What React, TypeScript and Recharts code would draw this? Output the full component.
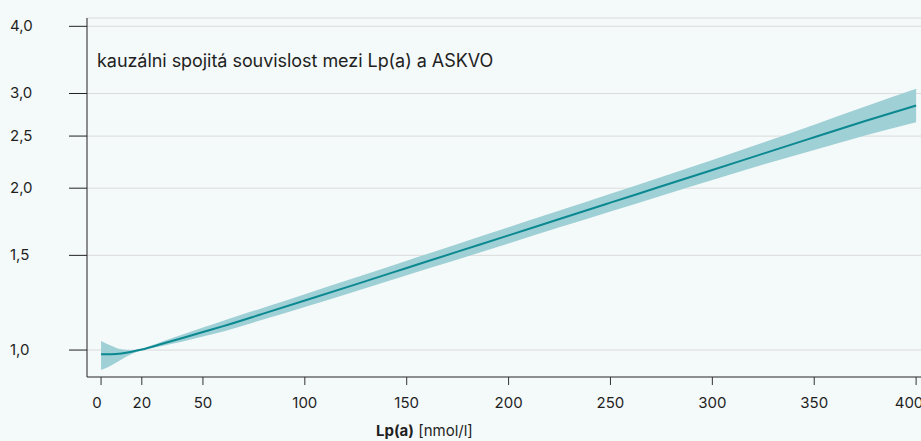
import React from "react";
import {
  ComposedChart,
  Area,
  Line,
  XAxis,
  YAxis,
  CartesianGrid,
} from "recharts";

// Lp(a) concentration [nmol/l]
const lpa = [0, 5, 10, 15, 20, 30, 40, 50, 60, 80, 100, 125, 150, 175, 200, 225, 250, 275, 300, 325, 350, 375, 400];
// causal risk estimate (reference 20 nmol/l)
const risk = [0.982, 0.982, 0.985, 0.993, 1.002, 1.027, 1.053, 1.08, 1.108, 1.17, 1.236, 1.325, 1.421, 1.524, 1.634, 1.753, 1.88, 2.016, 2.162, 2.319, 2.487, 2.667, 2.85];
const riskLow = [0.918, 0.936, 0.96, 0.983, 0.998, 1.017, 1.037, 1.06, 1.083, 1.141, 1.203, 1.287, 1.378, 1.474, 1.578, 1.691, 1.81, 1.937, 2.071, 2.213, 2.356, 2.507, 2.652];
const riskHigh = [1.04, 1.019, 1.003, 0.999, 1.006, 1.037, 1.069, 1.101, 1.134, 1.2, 1.27, 1.364, 1.466, 1.575, 1.692, 1.817, 1.953, 2.098, 2.257, 2.431, 2.625, 2.838, 3.063];

const xTicks = [0, 20, 50, 100, 150, 200, 250, 300, 350, 400];
const yTicks = [1, 1.5, 2, 2.5, 3, 4];

const data = lpa.map((x, i) => ({
  x,
  risk: risk[i],
  band: [riskLow[i], riskHigh[i]],
}));

const FONT = "Inter, 'Noto Sans', sans-serif";
const TEXT = "#1f1f1f";

const YTick = (props: any) => {
  const { y, payload } = props;
  return (
    <text x={10} y={y} dy={5} fontSize={15} fill={TEXT} fontFamily={FONT}>
      {payload.value.toFixed(1).replace(".", ",")}
    </text>
  );
};

const XTick = (props: any) => {
  const { x, y, payload } = props;
  return (
    <text
      x={payload.value === 0 ? x - 4 : x}
      y={y + 21}
      textAnchor="middle"
      fontSize={15}
      fill={TEXT}
      fontFamily={FONT}
    >
      {payload.value}
    </text>
  );
};

const AxisTitle = () => (
  <text x={376} y={436} fontSize={15} fill={TEXT} fontFamily={FONT}>
    <tspan fontWeight={700}>Lp(a)</tspan>
    <tspan> [nmol/l]</tspan>
  </text>
);

export default function App() {
  return (
    <div
      style={{
        position: "absolute",
        left: 0,
        top: 0,
        width: 921,
        height: 441,
        overflow: "hidden",
        background: "#f4f9f9",
        fontFamily: FONT,
      }}
    >
      <ComposedChart
        width={921}
        height={441}
        data={data}
        margin={{ top: 18, right: 0, left: 0, bottom: 0 }}
      >
        <CartesianGrid vertical={false} stroke="#dcdcdc" />
        <XAxis
          dataKey="x"
          type="number"
          domain={[-6.9, 402.4]}
          allowDataOverflow
          ticks={xTicks}
          height={64}
          tickSize={8}
          stroke="#333"
          tick={<XTick />}
          label={{ content: () => <AxisTitle /> }}
        />
        <YAxis
          type="number"
          scale="log"
          domain={[0.891, 4.145]}
          allowDataOverflow
          ticks={yTicks}
          width={87}
          tickSize={18}
          stroke="#222"
          tick={<YTick />}
        />
        <Area
          dataKey="band"
          type="monotone"
          stroke="none"
          fill="#9fd0d6"
          fillOpacity={1}
          isAnimationActive={false}
        />
        <Line
          dataKey="risk"
          type="monotone"
          stroke="#0c8891"
          strokeWidth={2}
          dot={false}
          isAnimationActive={false}
        />
      </ComposedChart>
      <div
        style={{
          position: "absolute",
          left: 97,
          top: 50,
          fontSize: 18,
          color: TEXT,
          letterSpacing: -0.05,
          whiteSpace: "nowrap",
        }}
      >
        kauzálni spojitá souvislost mezi Lp(a) a ASKVO
      </div>
    </div>
  );
}
